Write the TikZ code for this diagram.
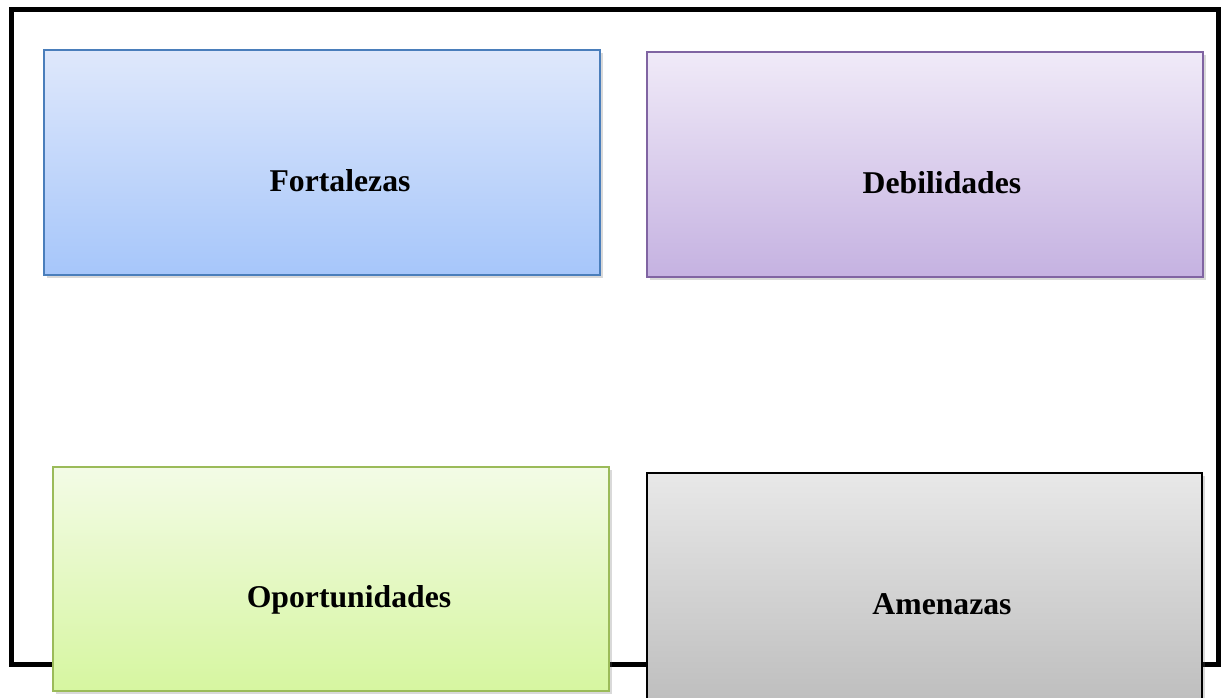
\documentclass[tikz,border=0pt]{standalone}
\usepackage{fontspec}
\setmainfont{Liberation Serif}
\usetikzlibrary{shadows}
\definecolor{fTop}{RGB}{223,232,251}
\definecolor{fBot}{RGB}{166,198,250}
\definecolor{fLine}{RGB}{74,126,187}
\definecolor{dTop}{RGB}{240,234,248}
\definecolor{dBot}{RGB}{197,178,225}
\definecolor{dLine}{RGB}{128,100,162}
\definecolor{oTop}{RGB}{243,251,230}
\definecolor{oBot}{RGB}{214,246,160}
\definecolor{oLine}{RGB}{155,187,89}
\definecolor{aTop}{RGB}{232,232,232}
\definecolor{aBot}{RGB}{190,190,190}
\tikzset{
  swotbox/.style={draw, line width=2pt, rectangle, inner sep=0pt,
    drop shadow={shadow xshift=3pt, shadow yshift=-3pt, opacity=0.25, fill=black!60}},
  swotlabel/.style={font=\fontsize{31.7}{36}\selectfont\bfseries, anchor=base, inner sep=0pt},
  frameline/.style={line width=5pt, black}
}
\begin{document}
\begin{tikzpicture}[x=1pt, y=-1pt]
\useasboundingbox (0,0) rectangle (1226,697);
\draw[frameline] (11,9) rectangle (1218,664);
\node[swotbox, draw=fLine, top color=fTop, bottom color=fBot, minimum width=556pt, minimum height=225pt, anchor=north west] (F) at (43,49) {};
\node[swotbox, draw=dLine, top color=dTop, bottom color=dBot, minimum width=556pt, minimum height=225pt, anchor=north west] (D) at (646,51) {};
\node[swotbox, draw=oLine, top color=oTop, bottom color=oBot, minimum width=556pt, minimum height=224pt, anchor=north west] (O) at (52,466) {};
\node[swotbox, draw=black, top color=aTop, bottom color=aBot, minimum width=555pt, minimum height=230pt, anchor=north west] (A) at (646,472) {};
\node[swotlabel] (Ft) at (340,191) {Fortalezas};
\node[swotlabel] (Dt) at (942,193) {Debilidades};
\node[swotlabel] (Ot) at (349,607) {Oportunidades};
\node[swotlabel] (At) at (942,614) {Amenazas};
\end{tikzpicture}
\end{document}
